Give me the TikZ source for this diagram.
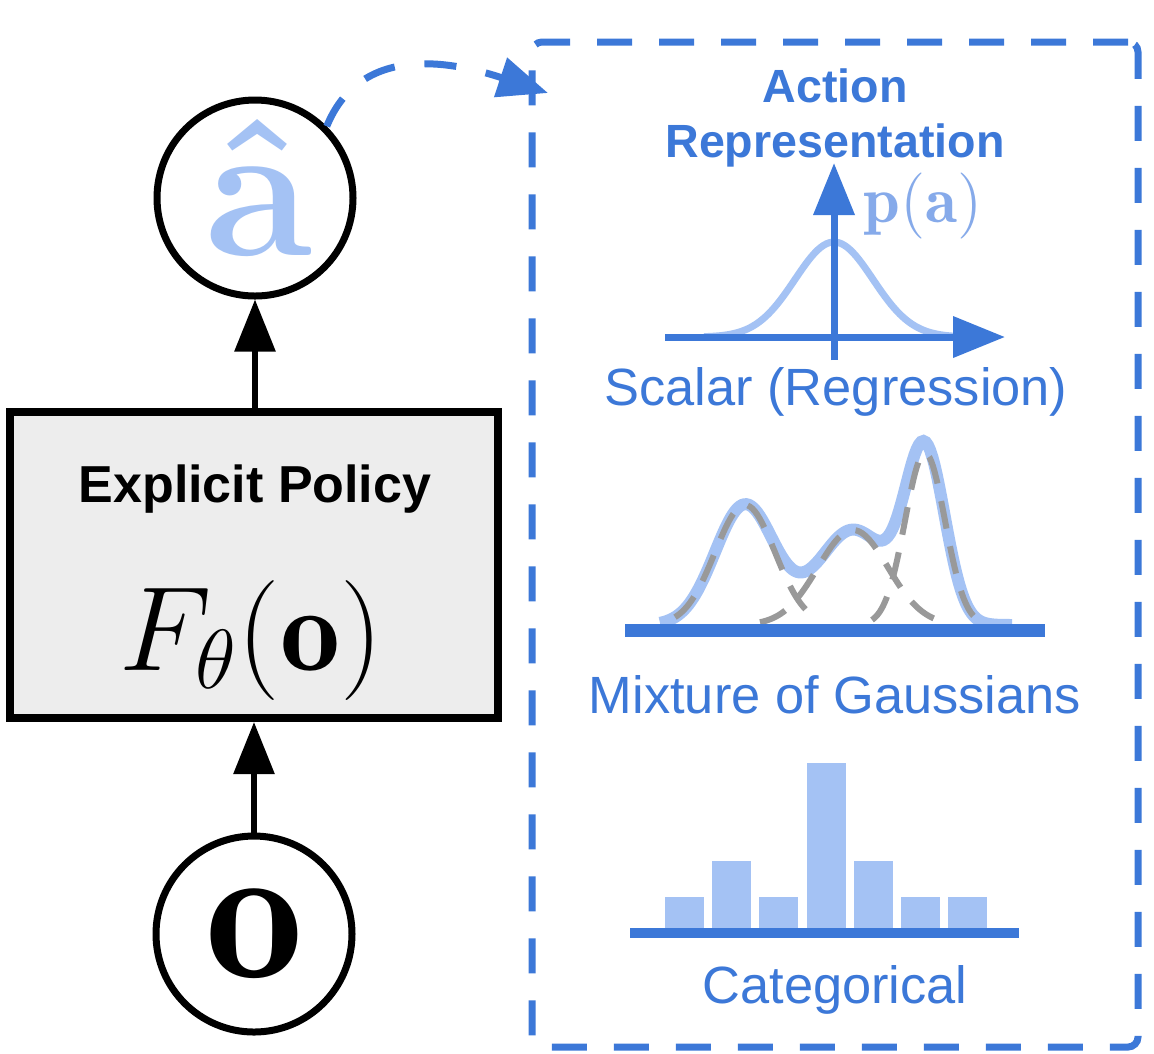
\documentclass[tikz,border=0pt]{standalone}
\usepackage{fix-cm}
\usepackage{fontspec}
\setsansfont{Liberation Sans}
\usetikzlibrary{arrows.meta}

\definecolor{repblue}{HTML}{3C78D8}
\definecolor{replight}{HTML}{A4C2F4}
\definecolor{pdflabel}{HTML}{86AAEA}
\definecolor{compgray}{HTML}{999999}
\definecolor{boxfill}{HTML}{EDEDED}

\begin{document}
\begin{tikzpicture}[x=0.25pt,y=-0.25pt,
  declare function={
    gA(\x)=120*exp(-((\x-745)/30)^2/2);
    gB(\x)=95*exp(-((\x-853)/35)^2/2);
    gC(\x)=172*exp(-((\x-925)/20)^2/2);
    bell(\x)=95*exp(-((\x-834)/39)^2/2);
  },
  state/.style={circle, draw=black, line width=1.75pt, minimum size=49pt, inner sep=0pt},
  policybox/.style={rectangle, draw=black, line width=2pt, fill=boxfill,
    minimum width=122pt, minimum height=76.5pt},
  flow/.style={line width=1.5pt, -{Triangle[length=13pt,width=10pt]}},
  repframe/.style={draw=repblue, line width=1.75pt, dash pattern=on 8.75pt off 6.75pt,
    rounded corners=2.5pt, minimum width=151.5pt, minimum height=251.25pt},
  link/.style={draw=repblue, line width=1.75pt, dash pattern=on 8pt off 7.5pt,
    -{Triangle[length=12.5pt,width=10pt]}},
  axisline/.style={draw=repblue, line width=1.75pt, -{Triangle[length=13pt,width=10pt]}},
  caption/.style={text=repblue, font=\fontsize{13.1pt}{15.7pt}\selectfont\sffamily,
    anchor=base, inner sep=0pt},
  comp/.style={compgray, line width=1.5pt, dash pattern=on 7pt off 4.5pt},
]
\fill[white] (0,0) rectangle (1154,1053);
\useasboundingbox (0,0) rectangle (1154,1053);

% policy column
\node[state] (ahat) at (255,198) {};
\node[anchor=base, inner sep=0pt, text=replight,
  font=\fontsize{49pt}{49pt}\selectfont\boldmath] (ahatsym) at (258,255)
  {$\hat{\mathbf{a}}$};
\node[policybox] (policy) at (254,565) {};
\node[anchor=base, inner sep=0pt, font=\fontsize{13pt}{15pt}\selectfont\sffamily\bfseries]
  (policyname) at (255,502) {Explicit Policy};
\node[anchor=base, inner sep=0pt, font=\fontsize{30pt}{32pt}\selectfont]
  (policyfn) at (251,670) {$F_\theta(\mathbf{o})$};
\node[state] (obs) at (254,934) {\fontsize{49pt}{49pt}\selectfont$\mathbf{o}$};

\draw[flow] (ahat.south |- policy.north) -- (ahat.south);
\draw[flow] (obs.north) -- (policy.south);

% action representation panel
\node[repframe] (rep) at (835,544.5) {};
\coordinate (repin) at (548,93);
\draw[link] (ahat.45) .. controls (360,45) and (448,60) .. (repin);

\node[text=repblue, font=\fontsize{11.65pt}{13.75pt}\selectfont\sffamily\bfseries,
  align=center, anchor=base, inner sep=0pt] (reptitle) at (835,157) {Action\\Representation};

% scalar output
\draw[replight, line width=1.75pt] plot[domain=704:964, samples=90] (\x,{337-bell(\x)});
\draw[axisline] (834,360) -- (834,163);
\draw[axisline] (665,337) -- (1005,337);
\node[anchor=base, inner sep=0pt, text=pdflabel, font=\fontsize{16.5pt}{18pt}\selectfont]
  (pa) at (923,222) {$\mathbf{p}(\mathbf{a})$};
\node[caption] (scalar) at (836,405) {Scalar (Regression)};

% mixture of Gaussians
\draw[replight, line width=3pt] plot[domain=660:1012, samples=160]
  (\x,{625-gA(\x)-gB(\x)-gC(\x)});
\draw[comp] plot[domain=675:818, samples=60] (\x,{625-gA(\x)});
\draw[comp] plot[domain=760:940, samples=70] (\x,{625-gB(\x)});
\draw[comp] plot[domain=872:978, samples=60] (\x,{625-gC(\x)});
\draw[repblue, line width=3.25pt] (625,630) -- (1045,630);
\node[caption] (mog) at (835,713) {Mixture of Gaussians};

% categorical
\foreach \l/\t in {665/897, 712/861, 759/897, 807/763, 854/861, 901/897, 948/897}
  \fill[replight] (\l,\t) rectangle (\l+39,933);
\draw[repblue, line width=2.5pt] (630,933) -- (1019,933);
\node[caption] (cat) at (835,1003) {Categorical};
\end{tikzpicture}
\end{document}
